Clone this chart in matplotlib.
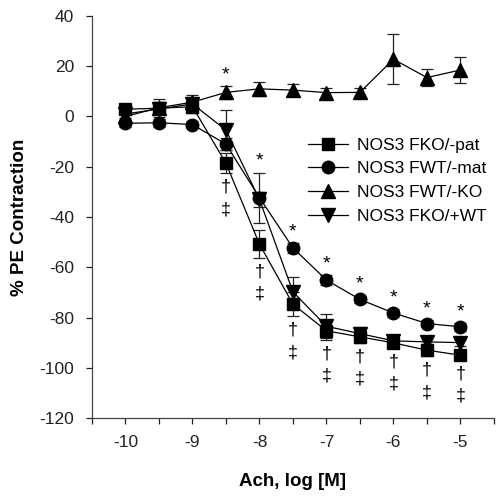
import matplotlib
matplotlib.use('Agg')
import matplotlib.pyplot as plt
import numpy as np

plt.rcParams['font.family'] = ['Liberation Sans', 'DejaVu Sans']
plt.rcParams['axes.unicode_minus'] = False

# log [Ach] concentrations
ach = [-10, -9.5, -9, -8.5, -8, -7.5, -7, -6.5, -6, -5.5, -5]

labels = ['NOS3 FKO/-pat', 'NOS3 FWT/-mat', 'NOS3 FWT/-KO', 'NOS3 FKO/+WT']
markers = ['s', 'o', '^', 'v']

fko_pat = [2.9, 3.3, 3.9, -18.6, -50.8, -74.7, -85.3, -87.7, -90.1, -93.0, -95.0]
fko_pat_err = [1.5, 3.5, 2.5, 4.0, 5.5, 4.8, 3.5, 2.5, 2.0, 2.5, 2.0]

fwt_mat = [-2.7, -2.5, -3.2, -11.0, -32.3, -52.3, -65.1, -72.8, -78.2, -82.4, -83.7]
fwt_mat_err = [1.5, 1.5, 1.5, 2.5, 10.0, 2.0, 2.0, 1.5, 1.5, 1.5, 1.5]

fwt_ko = [0.0, 3.5, 5.7, 9.6, 11.0, 10.5, 9.5, 9.6, 22.8, 15.5, 18.5]
fwt_ko_err = [1.5, 2.0, 3.0, 2.5, 2.8, 2.5, 2.0, 1.7, 10.0, 3.5, 5.0]

fko_wt = [1.0, 3.0, 5.0, -5.4, -33.0, -69.8, -83.5, -86.4, -89.3, -89.7, -90.0]
fko_wt_err = [1.5, 2.0, 2.5, 8.0, 3.0, 5.8, 4.7, 2.5, 2.0, 2.0, 1.5]

series = [fko_pat, fwt_mat, fwt_ko, fko_wt]
errors = [fko_pat_err, fwt_mat_err, fwt_ko_err, fko_wt_err]

# significance marks: '*' above a series, dagger pair below FKO/-pat
star_x = [-8.5, -8, -7.5, -7, -6.5, -6, -5.5, -5]
star_ref = [2, 1, 1, 1, 1, 1, 1, 1]
dagger_x = [-8.5, -8, -7.5, -7, -6.5, -6, -5.5, -5]

fig = plt.figure(figsize=(5.04, 5.0), dpi=100)
ax = fig.add_axes([0.1825, 0.164, 0.7975, 0.804])

handles = []
for ys, es, m, lab in zip(series, errors, markers, labels):
    c = ax.errorbar(ach, ys, yerr=es, marker=m, markersize=10 if m in '^v' else 9,
                    color='black', mfc='black', mec='black', linewidth=0.9,
                    elinewidth=0.9, ecolor='#222222', capsize=4, capthick=0.9,
                    label=lab)
    handles.append(c.lines[0])

for x, ref in zip(star_x, star_ref):
    i = ach.index(x)
    y = series[ref][i] + errors[ref][i]
    ax.annotate('*', (x, y), xytext=(0, 2), textcoords='offset points',
                ha='center', va='bottom', fontsize=14)

for x in dagger_x:
    i = ach.index(x)
    y = fko_pat[i] - fko_pat_err[i]
    ax.annotate('\u2020', (x, y), xytext=(0, -4), textcoords='offset points',
                ha='center', va='top', fontsize=13)
    ax.annotate('\u2021', (x, y), xytext=(0, -20), textcoords='offset points',
                ha='center', va='top', fontsize=13)

ax.set_xlim(-10.5, -4.5)
ax.set_ylim(-120, 40)
ticks = np.arange(-10.5, -4.49, 0.5)
ax.set_xticks(ticks)
ax.set_xticklabels(['' if v != int(v) else str(int(v)) for v in ticks])
ax.set_yticks(np.arange(-120, 41, 20))
ax.tick_params(direction='out', length=4, width=0.9, labelsize=12.5,
               colors='#222222')
ax.tick_params(axis='x', pad=8)
ax.tick_params(axis='y', pad=9)
for s in ['top', 'right']:
    ax.spines[s].set_visible(False)
for s in ['left', 'bottom']:
    ax.spines[s].set_linewidth(0.9)
    ax.spines[s].set_color('#444444')

ax.set_xlabel('Ach, log [M]', fontsize=13.5, fontweight='bold', labelpad=17)
ax.set_ylabel('% PE Contraction', fontsize=13.5, fontweight='bold', labelpad=8)

ax.legend(handles=handles, labels=labels, loc='center left',
          bbox_to_anchor=(0.52, 0.59), frameon=False,
          fontsize=12.5, handlelength=2.3, handletextpad=0.55,
          labelspacing=0.5, borderaxespad=0)

fig.savefig('out.png', dpi=100, facecolor='white')
